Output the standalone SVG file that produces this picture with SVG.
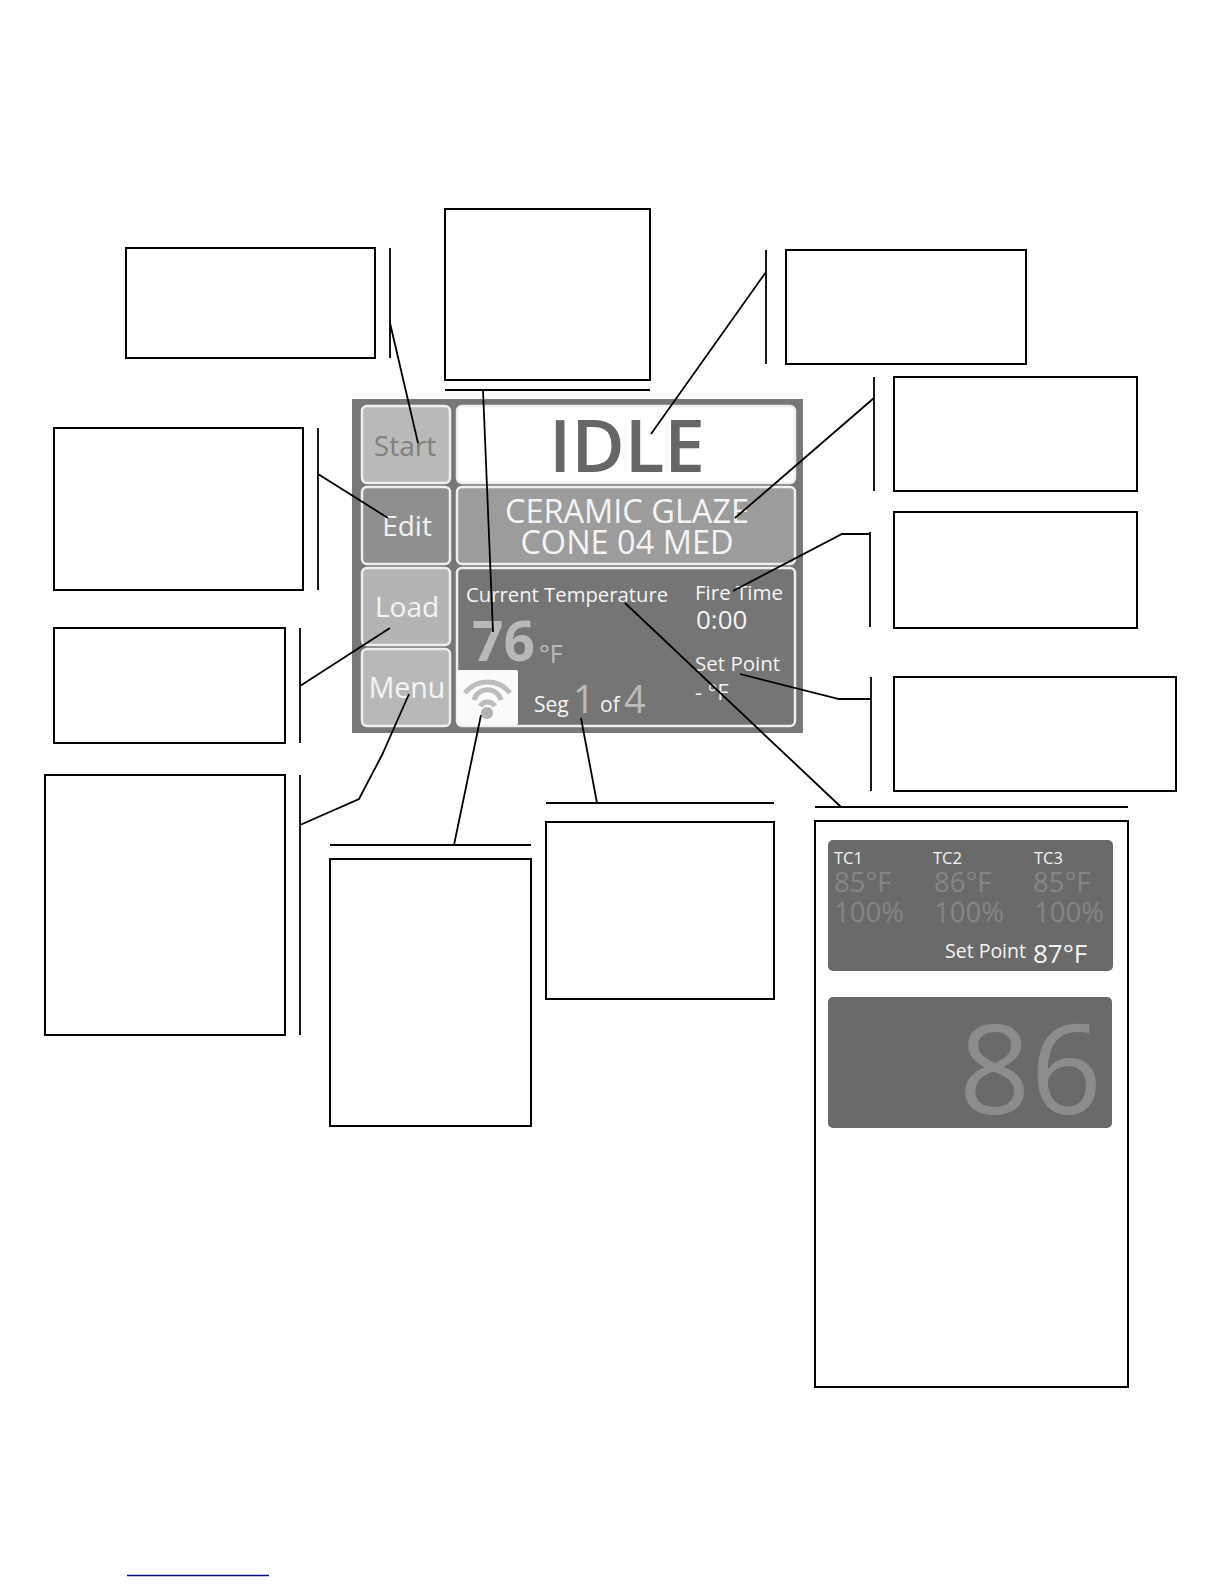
<svg xmlns="http://www.w3.org/2000/svg" width="1224" height="1584" viewBox="0 0 1224 1584">
<style>
text{font-family:"Open Sans","Noto Sans","Liberation Sans",sans-serif}
.box{fill:#fff;stroke:#000;stroke-width:2}
.btn{stroke:#efefef;stroke-width:2.5}
.c{fill:none;stroke:#000;stroke-width:1.8}
.w{fill:#f4f4f4}
.m{text-anchor:middle}
.d{fill:#858585}
.g{fill:#bcbcbc}
.a{fill:none;stroke:#bdbdbd;stroke-width:5}
</style>
<rect width="1224" height="1584" fill="#fff"/>
<g id="box-start"><rect class="box" x="126" y="248" width="249" height="110"/></g>
<g id="box-temp"><rect class="box" x="445" y="209" width="205" height="171"/></g>
<g id="box-status"><rect class="box" x="786" y="250" width="240" height="114"/></g>
<g id="box-program"><rect class="box" x="894" y="377" width="243" height="114"/></g>
<g id="box-firetime"><rect class="box" x="894" y="512" width="243" height="116"/></g>
<g id="box-setpoint"><rect class="box" x="894" y="677" width="282" height="114"/></g>
<g id="box-edit"><rect class="box" x="54" y="428" width="249" height="162"/></g>
<g id="box-load"><rect class="box" x="54" y="628" width="231" height="115"/></g>
<g id="box-menu"><rect class="box" x="45" y="775" width="240" height="260"/></g>
<g id="box-wifi"><rect class="box" x="330" y="859" width="201" height="267"/></g>
<g id="box-seg"><rect class="box" x="546" y="822" width="228" height="177"/></g>
<g id="screen">
<rect x="352" y="399" width="451" height="334" fill="#777"/>
<g id="btn-start"><rect class="btn" x="362" y="406" width="88" height="77" rx="5" fill="#bababa"/><text class="m" x="405" y="456" font-size="28" fill="#808080">Start</text></g>
<g id="btn-edit"><rect class="btn" x="362" y="487" width="88" height="77" rx="5" fill="#8f8f8f"/><text class="m" x="407" y="536" font-size="28" fill="#f2f2f2">Edit</text></g>
<g id="btn-load"><rect class="btn" x="362" y="568" width="88" height="77" rx="5" fill="#b4b4b4"/><text class="m" x="407" y="617" font-size="28" fill="#f4f4f4">Load</text></g>
<g id="btn-menu"><rect class="btn" x="362" y="649" width="88" height="77" rx="5" fill="#b8b8b8"/><text class="m" x="407" y="698" font-size="28.5" fill="#f4f4f4">Menu</text></g>
<g id="status"><rect class="btn" x="457" y="406" width="338" height="77" rx="5" fill="#fff"/><text class="m" x="627" y="472" font-size="73" font-weight="600" fill="#666">IDLE</text></g>
<g id="program"><rect class="btn" x="457" y="487" width="338" height="77" rx="5" fill="#9c9c9c"/>
<text class="m w" x="627" y="523" font-size="32.5">CERAMIC GLAZE</text><text class="m w" x="627" y="554" font-size="32.5">CONE 04 MED</text></g>
<g id="main"><rect class="btn" x="457" y="568" width="338" height="158" rx="5" fill="#757575"/>
<text class="w" x="466" y="602" font-size="20.3">Current Temperature</text>
<text x="472" y="661" font-size="55" font-weight="700" fill="#b8b8b8">76</text>
<text class="g" x="539" y="663" font-size="25">°F</text>
<text class="w" x="695" y="600" font-size="20.5">Fire Time</text>
<text class="w" x="696" y="629" font-size="26">0:00</text>
<text class="w" x="695" y="671" font-size="20.5">Set Point</text>
<text class="w" x="695" y="700" font-size="22">- °F</text>
<text class="w" x="534" y="712" font-size="21">Seg</text>
<text class="g" x="573" y="713" font-size="38">1</text>
<text class="w" x="600" y="712" font-size="21">of</text>
<text class="g" x="624" y="713" font-size="38">4</text>
</g>
<g id="wifi"><rect x="457" y="670" width="61" height="55" rx="2" fill="#fafafa"/>
<path class="a" d="M465 693A28.5 28.5 0 0 1 510 693M474 700A14 14 0 0 1 501 700M480 706A9 9 0 0 1 495 706"/>
<circle cx="487" cy="713" r="6" fill="#b0b0b0"/></g>
</g>
<g id="box-detail"><rect class="box" x="815" y="821" width="313" height="566"/>
<rect x="828" y="840" width="285" height="131" rx="5" fill="#6a6a6a"/>
<rect x="828" y="997" width="284" height="131" rx="5" fill="#6a6a6a"/>
<text class="w" x="834" y="864" font-size="16.5">TC1</text><text class="w" x="933" y="864" font-size="16.5">TC2</text><text class="w" x="1034" y="864" font-size="16.5">TC3</text>
<text class="d" x="834" y="892" font-size="27.5">85°F</text><text class="d" x="934" y="892" font-size="27.5">86°F</text><text class="d" x="1033" y="892" font-size="27.5">85°F</text>
<text class="d" x="834" y="922" font-size="27.5">100%</text><text class="d" x="934" y="922" font-size="27.5">100%</text><text class="d" x="1034" y="922" font-size="27.5">100%</text>
<text class="w" x="945" y="958" font-size="19.5">Set Point</text><text class="w" x="1033" y="963" font-size="26">87°F</text>
<text x="1102" y="1114" font-size="125" font-weight="500" text-anchor="end" fill="#8c8c8c">86</text>
</g>
<g id="connectors">
<path class="c" d="M390 248V358M390 323L418 443"/>
<path class="c" d="M445 390H650M483 390L493 632"/>
<path class="c" d="M766 250V364M766 272L651 434"/>
<path class="c" d="M874 377V491M874 398L735 518"/>
<path class="c" d="M870 532V627M870 534H842L733 591"/>
<path class="c" d="M871 677V791M871 699H839L740 674"/>
<path class="c" d="M815 807H1128M841 807L625 603"/>
<path class="c" d="M546 803H774M597 803L581 718"/>
<path class="c" d="M330 845H531M454 845L481 715"/>
<path class="c" d="M300 775V1035M300 825L359 799L382 755L409 694"/>
<path class="c" d="M300 628V743M300 686L390 628"/>
<path class="c" d="M318 428V590M318 474L388 518"/>
</g>
<path id="footer-rule" d="M127 1575.5H269" stroke="#10108c" stroke-width="1.6" fill="none"/>
</svg>
